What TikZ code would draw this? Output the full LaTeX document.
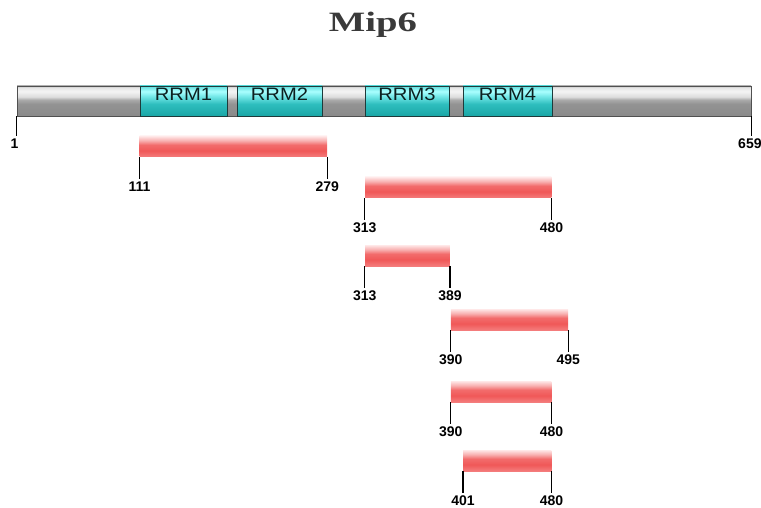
\documentclass[tikz,border=0pt]{standalone}
\usepackage{fontspec}
\setmainfont{Liberation Sans}
\newfontfamily\titlefont{Liberation Serif}
\usetikzlibrary{fit,calc}
\definecolor{gA}{HTML}{8A8A8A}
\definecolor{gB}{HTML}{939393}
\definecolor{gC}{HTML}{AAAAAA}
\definecolor{gG}{HTML}{DCDCDC}
\definecolor{gD}{HTML}{F4F4F4}
\definecolor{gE}{HTML}{E6E6E6}
\definecolor{gF}{HTML}{C4C4C4}
\definecolor{cA}{HTML}{1AA6A6}
\definecolor{cB}{HTML}{2EBEBE}
\definecolor{cC}{HTML}{74E8E8}
\definecolor{cD}{HTML}{AAFFFF}
\definecolor{cE}{HTML}{5EDCDC}
\definecolor{rA}{HTML}{F47C7C}
\definecolor{rB}{HTML}{F05858}
\definecolor{rC}{HTML}{F26C6C}
\definecolor{rD}{HTML}{F8AFAF}
\definecolor{rE}{HTML}{FFE8E8}
\definecolor{barline}{HTML}{505050}
\definecolor{domline}{HTML}{1E3A3A}
\definecolor{titlegray}{HTML}{3A3A3A}
\definecolor{domtext}{HTML}{0C2020}
\pgfdeclareverticalshading{graybar}{100bp}{color(0bp)=(gA); color(25bp)=(gA); color(45bp)=(gB); color(52bp)=(gC); color(57bp)=(gG); color(66bp)=(gD); color(72bp)=(gE); color(75bp)=(gF); color(100bp)=(gF)}
\pgfdeclareverticalshading{cyanbar}{100bp}{color(0bp)=(cA); color(25bp)=(cA); color(45bp)=(cB); color(58bp)=(cC); color(66bp)=(cD); color(75bp)=(cE); color(100bp)=(cE)}
\pgfdeclareverticalshading{redshade}{100bp}{color(0bp)=(rA); color(25bp)=(rA); color(40bp)=(rB); color(54bp)=(rC); color(64bp)=(rD); color(75bp)=(rE); color(100bp)=(rE)}
\tikzset{
  mainbar/.style={draw=barline, line width=0.8pt, shading=graybar, inner sep=0pt},
  domainbox/.style={draw=domline, line width=0.8pt, shading=cyanbar, inner sep=0pt,
    font=\fontsize{18}{18}\selectfont, text=domtext},
  redbar/.style={shading=redshade, inner sep=0pt},
  num/.style={inner sep=0pt, font=\fontsize{14}{14}\selectfont\bfseries, text=black},
  tickline/.style={line width=1.2pt, black},
  titlestyle/.style={inner sep=0pt, font=\titlefont\bfseries\fontsize{28}{28}\selectfont, text=titlegray}
}
\newcommand\mipfrag[4]{%
  \coordinate (#1nw) at ({px(#2)},#4);
  \coordinate (#1se) at ({px(#3)},#4+21);
  \node[redbar, fit=(#1nw)(#1se)] (#1) {};
  \node[num] (#1a) at ($(#1.south west)+(0,29)$) {#2};
  \node[num] (#1b) at ($(#1.south east)+(0,29)$) {#3};
  \draw[tickline] (#1.south west) -- ([yshift=2pt]#1a.north);
  \draw[tickline] (#1.south east) -- ([yshift=2pt]#1b.north);
}
\begin{document}
\begin{tikzpicture}[x=1pt, y=-1pt, declare function={px(\a)=17+(\a-1)*1.115502;}]
\useasboundingbox (0,0) rectangle (761,508);
% title
\node[titlestyle, anchor=base] (title) at (373,32) {\scalebox{1.38}[1]{Mip6}};
% main bar
\coordinate (mnw) at (17,86);
\coordinate (mse) at (751,116);
\node[mainbar, fit=(mnw)(mse)] (main) {};
% domains
\coordinate (d1a) at (140,86); \coordinate (d1b) at (227,116);
\coordinate (d2a) at (237,86); \coordinate (d2b) at (322,116);
\coordinate (d3a) at (365,86); \coordinate (d3b) at (449,116);
\coordinate (d4a) at (463,86); \coordinate (d4b) at (552,116);
\node[domainbox, fit=(d1a)(d1b)] (rrm1) {\scalebox{1.12}[1]{RRM1}};
\node[domainbox, fit=(d2a)(d2b)] (rrm2) {\scalebox{1.12}[1]{RRM2}};
\node[domainbox, fit=(d3a)(d3b)] (rrm3) {\scalebox{1.12}[1]{RRM3}};
\node[domainbox, fit=(d4a)(d4b)] (rrm4) {\scalebox{1.12}[1]{RRM4}};
% main ticks
\node[num] (ms) at ($(main.south west)+(-2,27)$) {1};
\node[num] (me) at ($(main.south east)+(-1.5,27)$) {659};
\draw[tickline] (main.south west) -- ([xshift=2pt,yshift=2pt]ms.north);
\draw[tickline] (main.south east) -- ([xshift=1.5pt,yshift=2pt]me.north);
% fragments
\mipfrag{fa}{111}{279}{136}
\mipfrag{fb}{313}{480}{177}
\mipfrag{fc}{313}{389}{245}
\mipfrag{fd}{390}{495}{309}
\mipfrag{fe}{390}{480}{381}
\mipfrag{ff}{401}{480}{450}
\end{tikzpicture}
\end{document}
